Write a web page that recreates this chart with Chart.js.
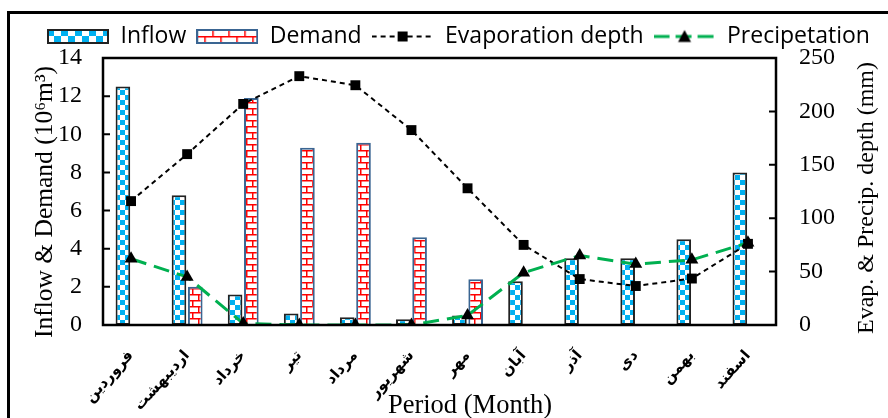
<!DOCTYPE html>
<html lang="fa">
<head>
<meta charset="UTF-8" />
<title>Inflow, demand, evaporation and precipitation</title>
<script src="https://cdn.jsdelivr.net/npm/chart.js"></script>
<style>
  body { margin: 0; background: #fff; }
  #wrap { width: 888px; height: 418px; position: relative; }
</style>
</head>
<body>
<div id="wrap"><canvas id="chart" width="888" height="418"></canvas></div>
<script>
// data
const months = ['فروردین', 'اردیبهشت', 'خرداد', 'تیر', 'مرداد', 'شهریور', 'مهر', 'آبان', 'آذر', 'دی', 'بهمن', 'اسفند'];
const inflow = [12.5, 6.8, 1.6, 0.6, 0.4, 0.3, 0.5, 2.3, 3.5, 3.5, 4.5, 8.0];
const demand = [0, 2.0, 11.9, 9.3, 9.55, 4.6, 2.4, 0, 0, 0, 0, 0];
const evaporation = [116, 160, 207, 233, 224.5, 182.5, 128, 75, 43, 36.5, 43.5, 76];
const precipitation = [62, 45, 1.5, 0, 0, 0, 9, 49, 65, 57, 61, 77];
const leftTicks = [0, 2, 4, 6, 8, 10, 12, 14];
const rightTicks = [0, 50, 100, 150, 200, 250];

const BLUE = '#00B0F0', RED = '#FF0000', GREEN = '#00B050', DEMAND_EDGE = '#3A6592';

function makeCanvas(w, h) {
  const c = document.createElement('canvas');
  c.width = w; c.height = h;
  return c;
}

// checker tile for inflow
function checkerTile(cell) {
  const c = makeCanvas(cell * 2, cell * 2), g = c.getContext('2d');
  g.fillStyle = '#fff'; g.fillRect(0, 0, cell * 2, cell * 2);
  g.fillStyle = BLUE;
  g.fillRect(0, 0, cell, cell);
  g.fillRect(cell, cell, cell, cell);
  return c;
}

// brick tile for demand
function brickTile(w, h) {
  const c = makeCanvas(w, h), g = c.getContext('2d');
  g.fillStyle = '#fff'; g.fillRect(0, 0, w, h);
  g.strokeStyle = RED; g.lineWidth = 1.5;
  g.beginPath();
  g.moveTo(0, 0.75); g.lineTo(w, 0.75);
  g.moveTo(0, h / 2 + 0.75); g.lineTo(w, h / 2 + 0.75);
  g.moveTo(0.75, 0); g.lineTo(0.75, h / 2);
  g.moveTo(w / 2 + 0.75, h / 2); g.lineTo(w / 2 + 0.75, h);
  g.stroke();
  return c;
}

const ctx = document.getElementById('chart').getContext('2d');
const inflowFill = ctx.createPattern(checkerTile(5), 'repeat');
const demandFill = ctx.createPattern(brickTile(12, 12), 'repeat');

// legend swatches
function barSwatch(tile, edge) {
  const c = makeCanvas(62, 15), g = c.getContext('2d');
  g.fillStyle = g.createPattern(tile, 'repeat');
  g.fillRect(0, 0, 62, 15);
  g.strokeStyle = edge; g.lineWidth = 2;
  g.strokeRect(1, 1, 60, 13);
  return c;
}
function lineSwatch(color, width, dash, marker) {
  const c = makeCanvas(62, 16), g = c.getContext('2d');
  g.strokeStyle = color; g.lineWidth = width; g.setLineDash(dash);
  g.beginPath(); g.moveTo(0, 8); g.lineTo(62, 8); g.stroke();
  g.setLineDash([]);
  g.fillStyle = '#000';
  if (marker === 'rect') {
    g.fillRect(26, 3, 10, 10);
  } else {
    g.beginPath(); g.moveTo(31, 1.5); g.lineTo(37.5, 13.5); g.lineTo(24.5, 13.5); g.closePath(); g.fill();
  }
  return c;
}
const swatches = [
  { text: 'Inflow', img: barSwatch(checkerTile(7), '#222') },
  { text: 'Demand', img: barSwatch(brickTile(16, 14), DEMAND_EDGE) },
  { text: 'Evaporation depth', img: lineSwatch('#000', 2, [5, 4], 'rect') },
  { text: 'Precipetation', img: lineSwatch(GREEN, 3, [16, 6], 'triangle') }
];

const serif = 'Liberation Serif';

function verticalTitle(c, text, x, y, size) {
  c.save();
  c.font = size + 'px "' + serif + '"';
  c.textAlign = 'center'; c.textBaseline = 'alphabetic';
  c.translate(x, y);
  c.rotate(-Math.PI / 2);
  c.fillText(text, 0, 0);
  c.restore();
}

const decorations = {
  id: 'decorations',
  afterDraw(chart) {
    const c = chart.ctx, a = chart.chartArea;
    const yl = chart.scales.y, yr = chart.scales.y2;
    c.save();
    // outer frame
    c.strokeStyle = '#000'; c.lineWidth = 3;
    c.strokeRect(8.5, 12.5, 900, 430);
    // plot box
    c.lineWidth = 2.5;
    c.strokeRect(a.left, a.top, a.right - a.left, a.bottom - a.top);
    // inward ticks
    c.lineWidth = 2;
    c.beginPath();
    leftTicks.forEach(v => { const p = yl.getPixelForValue(v); c.moveTo(a.left, p); c.lineTo(a.left + 7, p); });
    rightTicks.forEach(v => { const p = yr.getPixelForValue(v); c.moveTo(a.right, p); c.lineTo(a.right - 7, p); });
    c.stroke();
    // axis titles
    c.fillStyle = '#000';
    c.font = '26.5px "' + serif + '"';
    c.textAlign = 'center'; c.textBaseline = 'alphabetic';
    c.fillText('Period (Month)', 470, 413);
    verticalTitle(c, 'Inflow & Demand (10⁶m³)', 52, 202, 25.5);
    verticalTitle(c, 'Evap. & Precip. depth (mm)', 873, 198, 24);
    c.restore();
  }
};

new Chart(ctx, {
  type: 'bar',
  data: {
    labels: months,
    datasets: [
      {
        label: 'Inflow', data: inflow, yAxisID: 'y', order: 2,
        backgroundColor: inflowFill, borderColor: '#222', borderWidth: 2, borderSkipped: false,
        categoryPercentage: 0.58, barPercentage: 0.9
      },
      {
        label: 'Demand', data: demand, yAxisID: 'y', order: 2,
        backgroundColor: demandFill, borderColor: DEMAND_EDGE, borderWidth: 2,
        categoryPercentage: 0.58, barPercentage: 0.9
      },
      {
        type: 'line', label: 'Evaporation depth', data: evaporation, yAxisID: 'y2', order: 1,
        borderColor: '#000', borderWidth: 2, borderDash: [5, 4], tension: 0,
        pointStyle: 'rect', pointRadius: 7, pointBackgroundColor: '#000', pointBorderColor: '#000', pointBorderWidth: 0
      },
      {
        type: 'line', label: 'Precipetation', data: precipitation, yAxisID: 'y2', order: 0,
        borderColor: GREEN, borderWidth: 3, borderDash: [16, 8], tension: 0,
        pointStyle: 'triangle', pointRadius: 7.5, pointBackgroundColor: '#000', pointBorderColor: '#000', pointBorderWidth: 0
      }
    ]
  },
  options: {
    responsive: false,
    animation: false,
    layout: { padding: { left: 37, top: 15, right: 0, bottom: 0 } },
    plugins: {
      tooltip: { enabled: false },
      legend: {
        position: 'top',
        align: 'start',
        labels: {
          usePointStyle: true,
          pointStyleWidth: 62,
          padding: 10,
          color: '#000',
          font: { family: 'Open Sans', size: 23 },
          generateLabels: () => swatches.map((s, i) => ({
            text: s.text, pointStyle: s.img, fillStyle: '#fff', strokeStyle: '#fff',
            lineWidth: 0, hidden: false, datasetIndex: i, fontColor: '#000'
          }))
        }
      }
    },
    scales: {
      x: {
        grid: { display: false, drawTicks: false },
        border: { display: false },
        ticks: {
          autoSkip: false, minRotation: 48, maxRotation: 48, padding: 22,
          color: '#000', font: { family: 'DejaVu Sans', size: 15, weight: 'bold' }
        },
        afterFit: s => { s.height = 93; }
      },
      y: {
        position: 'left', min: 0, max: 14,
        grid: { display: false, drawTicks: false },
        border: { display: false },
        ticks: { stepSize: 2, padding: 21, color: '#000', font: { family: serif, size: 24 } },
        afterFit: s => { s.width = 66; }
      },
      y2: {
        position: 'right', min: 0, max: 250,
        grid: { display: false, drawTicks: false },
        border: { display: false },
        ticks: { stepSize: 50, padding: 23, color: '#000', font: { family: serif, size: 24 } },
        afterFit: s => { s.width = 112; }
      }
    }
  },
  plugins: [decorations]
});
</script>
</body>
</html>
